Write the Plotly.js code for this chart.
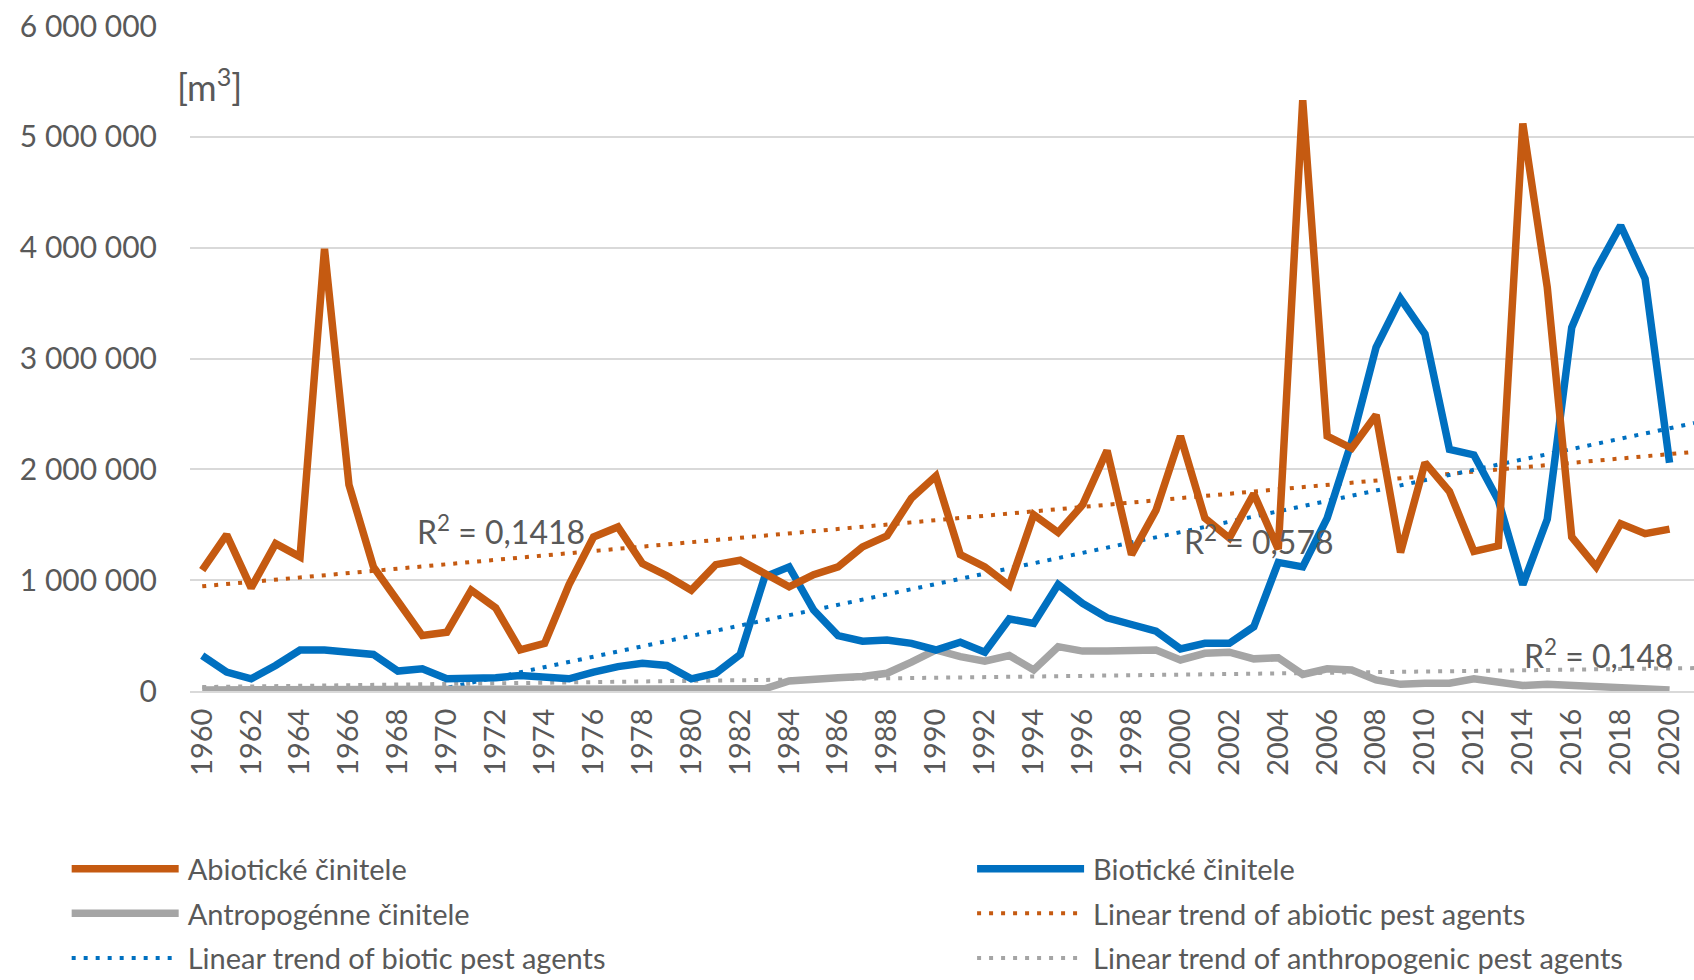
<!DOCTYPE html>
<html>
<head>
<meta charset="utf-8">
<script src="https://cdn.plot.ly/plotly-3.0.1.min.js"></script>
<style>html,body{margin:0;padding:0;background:#fff;}#chart{width:1694px;height:980px;}</style>
</head>
<body>
<div id="chart"></div>
<script>
// ---- DATA (values in m3) ----
var years = [];
for (var yy = 1960; yy <= 2020; yy++) years.push(yy);

var abioticM = [1.09,1.41,0.93,1.33,1.21,3.99,1.86,1.12,0.81,0.50,
                0.53,0.91,0.75,0.37,0.43,0.96,1.39,1.48,1.15,1.04,
                0.91,1.14,1.18,1.06,0.94,1.05,1.12,1.30,1.40,1.74,
                1.94,1.23,1.12,0.95,1.59,1.43,1.68,2.17,1.23,1.63,
                2.30,1.56,1.38,1.78,1.28,5.33,2.30,2.19,2.49,1.25,
                2.06,1.80,1.26,1.31,5.12,3.64,1.39,1.12,1.51,1.42,1.46];

var bioticM = [0.32,0.17,0.11,0.23,0.37,0.37,0.35,0.33,0.18,0.20,
               0.11,0.11,0.12,0.14,0.13,0.11,0.17,0.22,0.25,0.23,
               0.11,0.16,0.33,1.03,1.12,0.73,0.50,0.45,0.46,0.43,
               0.37,0.44,0.35,0.65,0.61,0.96,0.79,0.66,0.60,0.54,
               0.38,0.43,0.43,0.58,1.16,1.12,1.56,2.25,3.10,3.54,
               3.22,2.18,2.13,1.72,0.96,1.55,3.28,3.80,4.20,3.72,2.06];

var anthroM = [0.01,0.01,0.01,0.01,0.01,0.01,0.01,0.01,0.01,0.01,
               0.01,0.01,0.01,0.01,0.01,0.01,0.01,0.01,0.01,0.01,
               0.01,0.01,0.01,0.02,0.09,0.11,0.12,0.13,0.16,0.26,
               0.37,0.31,0.27,0.32,0.19,0.40,0.36,0.36,0.37,0.37,
               0.28,0.34,0.35,0.29,0.30,0.15,0.20,0.19,0.10,0.06,
               0.07,0.07,0.11,0.08,0.05,0.06,0.05,0.04,0.03,0.03,0.01];

var seriesNames = ['Abiotické činitele','Biotické činitele','Antropogénne činitele'];
var trendNames = ['Linear trend of abiotic pest agents','Linear trend of biotic pest agents','Linear trend of anthropogenic pest agents'];
var r2Labels = ['R<sup>2</sup> = 0,1418','R<sup>2</sup> = 0,578','R<sup>2</sup> = 0,148'];
var yTicks = [0,1000000,2000000,3000000,4000000,5000000,6000000];
var xTicks = years.filter(function(y){return y % 2 === 0;});

// ---- helpers ----
function toM3(a){ return a.map(function(v){ return v*1e6; }); }
var abiotic = toM3(abioticM), biotic = toM3(bioticM), anthro = toM3(anthroM);

// least-squares linear trend (Excel-style, x = 1..n)
function trend(vals){
  var n = vals.length, sx=0, sy=0, sxx=0, sxy=0;
  for (var i=0;i<n;i++){ var x=i+1; sx+=x; sy+=vals[i]; sxx+=x*x; sxy+=x*vals[i]; }
  var b = (n*sxy - sx*sy)/(n*sxx - sx*sx), a = (sy - b*sx)/n;
  var tx = [years[0], years[n-1]+1];
  var ty = [a + b*1, a + b*(n+1)];
  return {x: tx, y: ty};
}
var tA = trend(abiotic), tB = trend(biotic), tC = trend(anthro);

var cOr = '#C55A11', cBl = '#0070C0', cGr = '#A5A5A5';
var txt = '#595959';
var FONT = 'Lato, "Open Sans", "Noto Sans", sans-serif';
var dotDash = '4px,8px';
var LW = 7.5;

var data = [
  {x: tA.x, y: tA.y, name: trendNames[0], mode:'lines', legend:'legend2', legendrank: 2, legendgroup:'g4',
   line:{color:cOr, width:4, dash:dotDash}, hoverinfo:'skip'},
  {x: tB.x, y: tB.y, name: trendNames[1], mode:'lines', legend:'legend', legendrank: 3, legendgroup:'g5',
   line:{color:cBl, width:4, dash:dotDash}, hoverinfo:'skip'},
  {x: tC.x, y: tC.y, name: trendNames[2], mode:'lines', legend:'legend2', legendrank: 3, legendgroup:'g6',
   line:{color:cGr, width:4, dash:dotDash}, hoverinfo:'skip'},
  {x: years, y: anthro, name: seriesNames[2], mode:'lines', legend:'legend', legendrank: 2, legendgroup:'g3',
   line:{color:cGr, width:LW}},
  {x: years, y: biotic, name: seriesNames[1], mode:'lines', legend:'legend2', legendrank: 1, legendgroup:'g2',
   line:{color:cBl, width:LW}},
  {x: years, y: abiotic, name: seriesNames[0], mode:'lines', legend:'legend', legendrank: 1, legendgroup:'g1',
   line:{color:cOr, width:LW}}
];

var legendCommon = {
  orientation:'v', xanchor:'left', yanchor:'top', y:-0.229,
  font:{family:FONT, size:29, color:txt}, itemwidth:111,
  bgcolor:'rgba(0,0,0,0)', traceorder:'grouped', tracegroupgap:4
};
var leg1 = Object.assign({}, legendCommon, {x:-0.082});
var leg2 = Object.assign({}, legendCommon, {x:0.520});

var layout = {
  width:1694, height:980,
  margin:{l:190, r:0, t:26, b:289, autoexpand:false},
  paper_bgcolor:'#ffffff', plot_bgcolor:'#ffffff',
  separators:', ',
  font:{family:FONT, size:30, color:txt},
  showlegend:true,
  legend: leg1,
  legend2: leg2,
  xaxis:{
    range:[1959.5, 2021.0], tickmode:'array', tickvals:xTicks, ticktext:xTicks.map(String),
    tickangle:-90, showgrid:false, zeroline:false, showline:true, linecolor:'#d9d9d9', linewidth:2,
    ticks:'', tickfont:{family:FONT, size:29, color:txt}, ticklabelstandoff:4, automargin:false
  },
  yaxis:{
    range:[0, 6000000], tickmode:'array', tickvals:yTicks, tickformat:',d',
    showgrid:true, gridcolor:'#d9d9d9', gridwidth:2, zeroline:false, showline:false,
    ticks:'', tickfont:{family:FONT, size:30, color:txt}, ticklabelstandoff:32, automargin:false
  },
  annotations:[
    {xref:'paper', yref:'paper', x:-0.01, y:0.911, xanchor:'left', yanchor:'middle',
     text:'[m<sup>3</sup>]', showarrow:false, font:{family:FONT, size:36, color:txt}},
    {xref:'x', yref:'y', x:1972.2, y:1450000, xanchor:'center', yanchor:'middle',
     text:r2Labels[0], showarrow:false, font:{family:FONT, size:32, color:txt}},
    {xref:'x', yref:'y', x:2003.2, y:1360000, xanchor:'center', yanchor:'middle',
     text:r2Labels[1], showarrow:false, font:{family:FONT, size:32, color:txt}},
    {xref:'x', yref:'y', x:2017.1, y:330000, xanchor:'center', yanchor:'middle',
     text:r2Labels[2], showarrow:false, font:{family:FONT, size:32, color:txt}}
  ]
};

Plotly.newPlot('chart', data, layout, {staticPlot:true, displayModeBar:false}).then(function(){
  document.querySelectorAll('.legendlines path').forEach(function(p){
    p.setAttribute('d','M5,0h107');
  });
});
</script>
</body>
</html>
